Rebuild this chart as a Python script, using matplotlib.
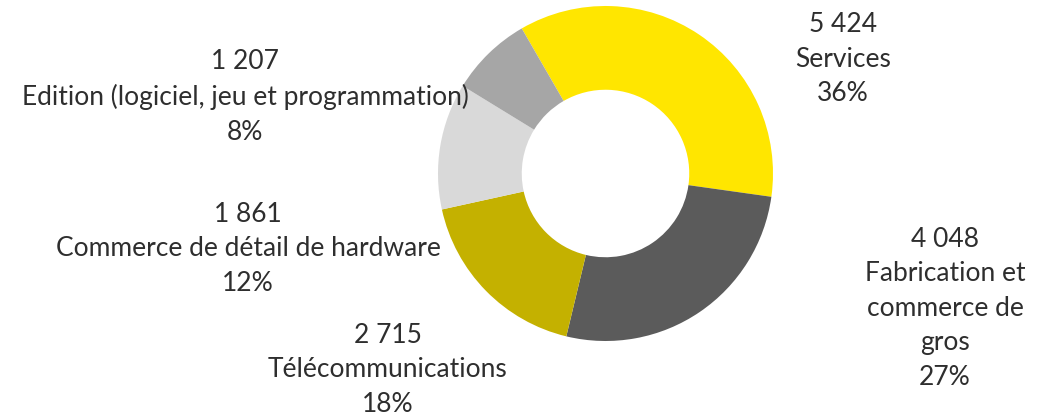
import matplotlib
matplotlib.use("Agg")
import matplotlib.pyplot as plt

categories = ["Services", "Fabrication et\ncommerce de\ngros", "Télécommunications",
              "Commerce de détail de hardware", "Edition (logiciel, jeu et programmation)"]
values = [5424, 4048, 2715, 1861, 1207]
colors = ["#FFE600", "#5B5B5B", "#C4B100", "#D9D9D9", "#A6A6A6"]
# label centres (in pie-radius units), layout only
label_pos = [(1.418, 0.682), (2.027, -0.805), (-1.299, -1.172), (-2.134, -0.45), (-2.152, 0.457)]

plt.rcParams['font.family'] = ['Lato', 'DejaVu Sans']

W, H = 1053, 417
fig = plt.figure(figsize=(W / 100, H / 100), dpi=100)
ax = fig.add_axes([0, 0, 1, 1])
cx, cy, R = 605.5, 173.5, 167.5
ax.pie(values, colors=colors, startangle=120, counterclock=False, radius=1.0,
       wedgeprops=dict(width=0.5, edgecolor='none'))
ax.set_xlim(-cx / R, (W - cx) / R)
ax.set_ylim(-(H - cy) / R, cy / R)
ax.set_aspect('auto')
ax.axis('off')

total = sum(values)
for cat, v, (x, y) in zip(categories, values, label_pos):
    num = f"{v:,}".replace(",", " ")
    pct = f"{round(100 * v / total)}%"
    ax.text(x, y, f"{num}\n{cat}\n{pct}", ha='center', va='center', fontsize=19,
            color='#2E2E2E', linespacing=1.47)

fig.savefig("out.png", dpi=100)
